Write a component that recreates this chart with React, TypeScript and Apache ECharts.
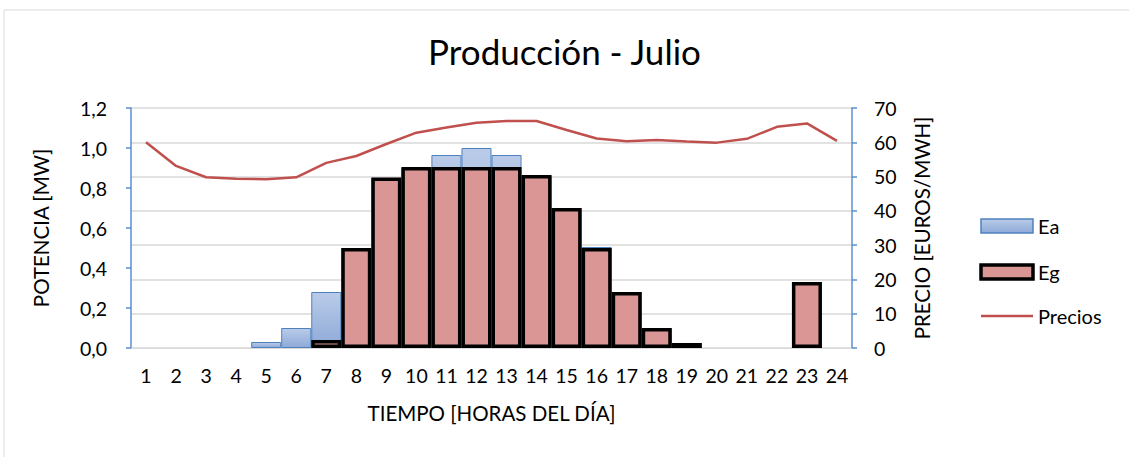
import React, { useEffect, useRef } from "react";
import * as echarts from "echarts";

const hours = ["1","2","3","4","5","6","7","8","9","10","11","12","13","14","15","16","17","18","19","20","21","22","23","24"];
const ea = [null, null, null, null, 0.03, 0.1, 0.28, 0.5, 0.85, 0.9, 0.965, 1.0, 0.965, 0.86, 0.7, 0.505, 0.28, 0.1, 0.025, null, null, null, null, null];
const eg = [null, null, null, null, null, null, 0.04, 0.5, 0.853, 0.905, 0.905, 0.905, 0.905, 0.865, 0.7, 0.5, 0.28, 0.1, 0.025, null, null, null, 0.33, null];
const precios = [60.0, 53.1, 49.8, 49.4, 49.2, 49.8, 54.0, 56.0, 59.5, 62.8, 64.3, 65.7, 66.2, 66.2, 63.6, 61.1, 60.3, 60.7, 60.2, 59.9, 61.0, 64.5, 65.5, 60.4];
const legendNames = ["Ea", "Eg", "Precios"];

const FONT = "Lato, 'Open Sans', sans-serif";
const EA_FILL = () =>
  new echarts.graphic.LinearGradient(0, 0, 0, 1, [
    { offset: 0, color: "#b9cbe8" },
    { offset: 1, color: "#8eaad8" },
  ]);

export default function App() {
  const ref = useRef<HTMLDivElement>(null);
  useEffect(() => {
    if (!ref.current) return;
    const chart = echarts.init(ref.current, undefined, { renderer: "svg" });
    const lx = 981;
    const lw = 52;
    const textX = 1038;
    const legendY = [226, 272, 316];
    chart.setOption({
      animation: false,
      backgroundColor: "#ffffff",
      textStyle: { fontFamily: FONT, color: "#000" },
      graphic: [
        {
          type: "rect",
          shape: { x: 4, y: 10, width: 1140, height: 460 },
          style: { fill: "none", stroke: "#d9d9d9", lineWidth: 1 },
          silent: true,
        },
        {
          type: "rect",
          shape: { x: lx, y: legendY[0] - 7, width: lw, height: 14 },
          style: { fill: EA_FILL(), stroke: "#4f81bd", lineWidth: 1.5 },
        },
        {
          type: "rect",
          shape: { x: lx, y: legendY[1] - 7, width: lw, height: 14 },
          style: { fill: "#d99694", stroke: "#000", lineWidth: 3.5 },
        },
        {
          type: "line",
          shape: { x1: lx, y1: legendY[2], x2: lx + lw, y2: legendY[2] },
          style: { stroke: "#c0504d", lineWidth: 2.5 },
        },
        ...legendNames.map((n, i) => ({
          type: "text",
          x: textX,
          y: legendY[i],
          style: {
            text: n,
            fontFamily: FONT,
            fontSize: 20,
            fill: "#000",
            textVerticalAlign: "middle",
            verticalAlign: "middle",
          },
        })),
      ],
      title: {
        text: "Producción - Julio",
        left: "center",
        top: 28,
        textStyle: { fontFamily: FONT, fontSize: 35, fontWeight: "normal", color: "#000" },
      },
      grid: { left: 131, right: 277, top: 108, bottom: 109 },
      xAxis: {
        type: "category",
        data: hours,
        axisLine: { lineStyle: { color: "#d9d9d9", width: 1 } },
        axisTick: { show: false },
        axisLabel: { fontSize: 19.5, color: "#000", fontFamily: FONT, margin: 17 },
        name: "TIEMPO [HORAS DEL DÍA]",
        nameLocation: "middle",
        nameGap: 54,
        nameTextStyle: { fontSize: 20.5, color: "#000", fontFamily: FONT },
      },
      yAxis: [
        {
          type: "value",
          min: 0,
          max: 1.2,
          interval: 0.2,
          position: "left",
          axisLine: { show: true, lineStyle: { color: "#5b8fcf", width: 1.5 } },
          axisTick: { show: true, length: 5, lineStyle: { color: "#5b8fcf", width: 1.5 } },
          splitLine: { show: false },
          axisLabel: {
            fontSize: 19.5,
            color: "#000",
            fontFamily: FONT,
            margin: 24,
            formatter: (v: number) => v.toFixed(1).replace(".", ","),
          },
          name: "POTENCIA [MW]",
          nameLocation: "middle",
          nameGap: 80,
          nameTextStyle: { fontSize: 20.5, color: "#000", fontFamily: FONT },
        },
        {
          type: "value",
          min: 0,
          max: 70,
          interval: 10,
          position: "right",
          axisLine: { show: true, lineStyle: { color: "#5b8fcf", width: 1.5 } },
          axisTick: { show: true, length: 5, lineStyle: { color: "#5b8fcf", width: 1.5 } },
          splitLine: { show: true, lineStyle: { color: "#d9d9d9", width: 1.5 } },
          axisLabel: { fontSize: 19.5, color: "#000", fontFamily: FONT, margin: 22 },
          name: "PRECIO [EUROS/MWH]",
          nameLocation: "middle",
          nameGap: 59,
          nameTextStyle: { fontSize: 20.5, color: "#000", fontFamily: FONT },
        },
      ],
      series: [
        {
          name: "Ea",
          type: "bar",
          yAxisIndex: 0,
          data: ea,
          barWidth: "100%",
          barGap: "-100%",
          z: 2,
          itemStyle: { color: EA_FILL(), borderColor: "#4f81bd", borderWidth: 1 },
        },
        {
          name: "Eg",
          type: "bar",
          yAxisIndex: 0,
          data: eg,
          barWidth: "100%",
          barGap: "-100%",
          z: 3,
          itemStyle: { color: "#d99694", borderColor: "#000000", borderWidth: 3.5 },
        },
        {
          name: "Precios",
          type: "line",
          yAxisIndex: 1,
          data: precios,
          symbol: "none",
          z: 4,
          lineStyle: { color: "#c0504d", width: 2.5 },
          itemStyle: { color: "#c0504d" },
        },
      ],
    });
    return () => chart.dispose();
  }, []);
  return (
    <div
      ref={ref}
      style={{ position: "absolute", left: 0, top: 0, width: 1129, height: 457 }}
    />
  );
}
